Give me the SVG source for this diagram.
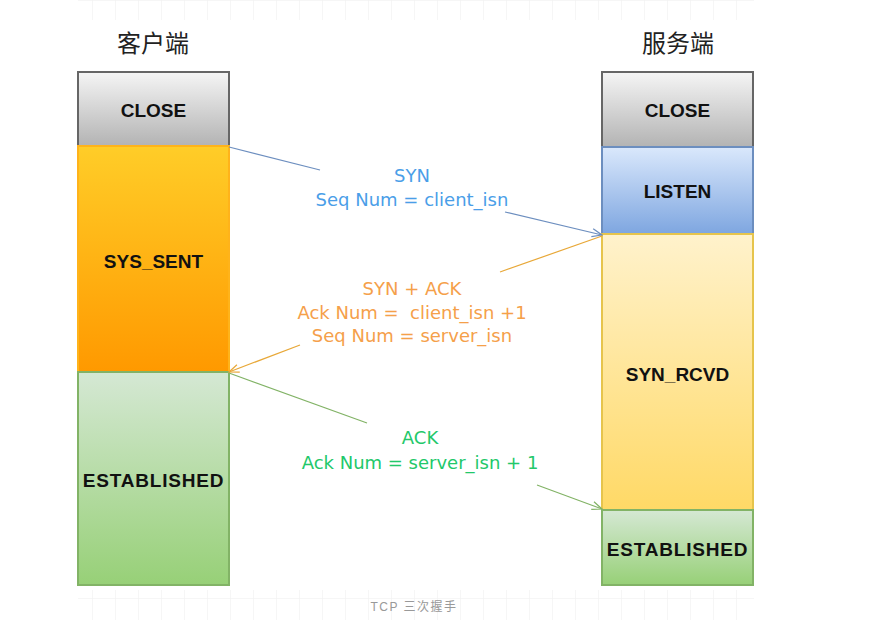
<svg xmlns="http://www.w3.org/2000/svg" width="879" height="620" viewBox="0 0 879 620">
<defs>
<linearGradient id="gGray" x1="0" y1="0" x2="0" y2="1"><stop offset="0" stop-color="#f5f5f5"/><stop offset="1" stop-color="#b3b3b3"/></linearGradient>
<linearGradient id="gOrange" x1="0" y1="0" x2="0" y2="1"><stop offset="0" stop-color="#ffcd28"/><stop offset="1" stop-color="#ff9900"/></linearGradient>
<linearGradient id="gGreen" x1="0" y1="0" x2="0" y2="1"><stop offset="0" stop-color="#d5e8d4"/><stop offset="1" stop-color="#97d077"/></linearGradient>
<linearGradient id="gBlue" x1="0" y1="0" x2="0" y2="1"><stop offset="0" stop-color="#dae8fc"/><stop offset="1" stop-color="#7ea6e0"/></linearGradient>
<linearGradient id="gYellow" x1="0" y1="0" x2="0" y2="1"><stop offset="0" stop-color="#fff2cc"/><stop offset="1" stop-color="#ffd966"/></linearGradient>
<marker id="mBlue" markerWidth="12" markerHeight="10" refX="11" refY="5" orient="auto" markerUnits="userSpaceOnUse"><path d="M1,1 L11,5 L1,9" fill="none" stroke="#6c8ebf" stroke-width="1.2"/></marker>
<marker id="mOrange" markerWidth="12" markerHeight="10" refX="11" refY="5" orient="auto" markerUnits="userSpaceOnUse"><path d="M1,1 L11,5 L1,9" fill="none" stroke="#e8a838" stroke-width="1.2"/></marker>
<marker id="mGreen" markerWidth="12" markerHeight="10" refX="11" refY="5" orient="auto" markerUnits="userSpaceOnUse"><path d="M1,1 L11,5 L1,9" fill="none" stroke="#82b366" stroke-width="1.2"/></marker>
<pattern id="grid" width="23" height="23" patternUnits="userSpaceOnUse"><path d="M23,0 L0,0 L0,23" fill="none" stroke="#eeeeee" stroke-width="1"/></pattern>
</defs>
<style>
.box{stroke-width:2}
.st{font-family:"Liberation Sans","DejaVu Sans",sans-serif;font-weight:bold;font-size:19px;fill:#111;text-anchor:middle}
.wide{letter-spacing:0.8px}
.title{font-family:"Noto Sans CJK SC",sans-serif;font-size:24px;fill:#222;text-anchor:middle}
.msg{font-family:"DejaVu Sans","Liberation Sans",sans-serif;font-size:18px;text-anchor:middle;white-space:pre}
.cap{font-family:"Liberation Sans","Noto Sans CJK SC",sans-serif;font-size:12px;fill:#999;text-anchor:middle;letter-spacing:1.5px}
</style>
<rect width="879" height="620" fill="#ffffff"/>
<rect x="78" y="0" width="676" height="20" fill="url(#grid)"/>
<rect x="78" y="590" width="676" height="30" fill="url(#grid)"/>
<text class="title" x="153" y="52">客户端</text>
<text class="title" x="678" y="52">服务端</text>
<g id="c-close"><rect class="box" x="78" y="72" width="151" height="74" fill="url(#gGray)" stroke="#666666"/><text class="st" x="153.5" y="117">CLOSE</text></g>
<g id="c-syssent"><rect class="box" x="78" y="146" width="151" height="226" fill="url(#gOrange)" stroke="#ffb31a"/><text class="st" x="153.5" y="268">SYS_SENT</text></g>
<g id="c-est"><rect class="box" x="78" y="372" width="151" height="213" fill="url(#gGreen)" stroke="#82b366"/><text class="st wide" x="153.5" y="487">ESTABLISHED</text></g>
<g id="s-close"><rect class="box" x="602" y="72" width="151" height="75" fill="url(#gGray)" stroke="#666666"/><text class="st" x="677.5" y="117">CLOSE</text></g>
<g id="s-listen"><rect class="box" x="602" y="147" width="151" height="87" fill="url(#gBlue)" stroke="#6c8ebf"/><text class="st" x="677.5" y="198">LISTEN</text></g>
<g id="s-synrcvd"><rect class="box" x="602" y="234" width="151" height="276" fill="url(#gYellow)" stroke="#e6c44c"/><text class="st" x="677.5" y="381">SYN_RCVD</text></g>
<g id="s-est"><rect class="box" x="602" y="510" width="151" height="75" fill="url(#gGreen)" stroke="#82b366"/><text class="st wide" x="677.5" y="556">ESTABLISHED</text></g>
<g id="connectors" fill="none" stroke-width="1.2">
<path d="M229,147 L320,170" stroke="#6c8ebf"/>
<path d="M505,212 L602,235" stroke="#6c8ebf" marker-end="url(#mBlue)"/>
<path d="M602,236 L500,272" stroke="#e8a838"/>
<path d="M300,345 L229,372" stroke="#e8a838" marker-end="url(#mOrange)"/>
<path d="M229,373 L367,423" stroke="#82b366"/>
<path d="M537,485 L602,509" stroke="#82b366" marker-end="url(#mGreen)"/>
</g>
<g id="labels">
<text class="msg" x="412" y="182" fill="#4a9ee8">SYN</text>
<text class="msg" x="412" y="206" fill="#4a9ee8">Seq Num = client_isn</text>
<text class="msg" x="412" y="295" fill="#f5a04a">SYN + ACK</text>
<text class="msg" x="412" y="319" fill="#f5a04a" xml:space="preserve">Ack Num =  client_isn +1</text>
<text class="msg" x="412" y="342" fill="#f5a04a">Seq Num = server_isn</text>
<text class="msg" x="420" y="444" fill="#22c86a">ACK</text>
<text class="msg" x="420" y="469" fill="#22c86a">Ack Num = server_isn + 1</text>
</g>
<text class="cap" x="414" y="611">TCP 三次握手</text>
</svg>
